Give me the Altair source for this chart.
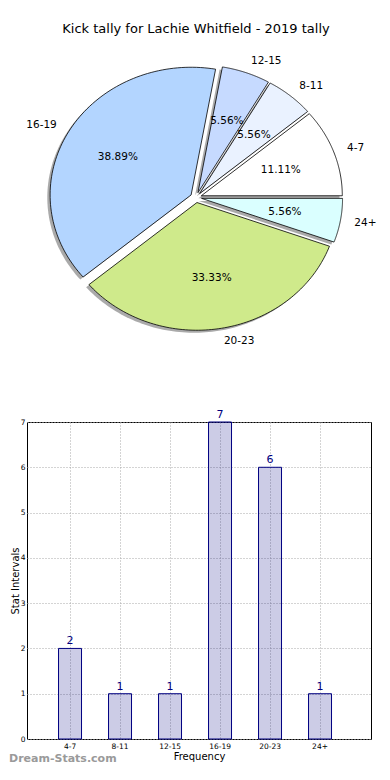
import altair as alt
import pandas as pd

# ---------------- data ----------------
categories = ["4-7", "8-11", "12-15", "16-19", "20-23", "24+"]
counts = [2, 1, 1, 7, 6, 1]
slice_colors = ["#FFFFFF", "#EAF2FF", "#C6DAFF", "#B3D5FF", "#CFEA8B", "#DAFFFF"]
y_ticks = [0, 1, 2, 3, 4, 5, 6, 7]
title_text = "Kick tally for Lachie Whitfield - 2019 tally"
watermark = ["Dream-Stats.com"]

df = pd.DataFrame({
    "cat": categories,
    "count": counts,
    "color": slice_colors,
    "idx": list(range(len(categories))),
})

# ---------------- style / layout ----------------
FONT = "DejaVu Sans"
EXPLODE = 0.04
LABEL_DIST = 1.1
PCT_DIST = 0.6
NSEG = 90
SHADOW = 0.02

PIE_W = 338
PIE_H = 307
RX = 141.0
RY = 127.7
DX = PIE_W / (2 * RX)
DY = PIE_H / (2 * RY)

BAR_W = 344
BAR_H = 317

xs = alt.Scale(domain=[-DX, DX], nice=False, zero=False)
ys = alt.Scale(domain=[-DY, DY], nice=False, zero=False)

base = (
    alt.Chart(df)
    .transform_joinaggregate(total="sum(count)")
    .transform_window(cum="sum(count)", sort=[alt.SortField("idx")], frame=[None, 0])
    .transform_calculate(a0="2*PI*(datum.cum - datum.count)/datum.total")
    .transform_calculate(a1="2*PI*datum.cum/datum.total")
    .transform_calculate(mid="(datum.a0 + datum.a1)/2")
    .transform_calculate(ex=f"{EXPLODE}*cos(datum.mid)")
    .transform_calculate(ey=f"{EXPLODE}*sin(datum.mid)")
)

poly = (
    base.transform_calculate(pts=f"sequence(0, {NSEG + 3})")
    .transform_flatten(["pts"], as_=["i"])
    .transform_calculate(k="datum.i - 1")
    .transform_calculate(t=f"clamp(datum.k, 0, {NSEG})/{NSEG}")
    .transform_calculate(r=f"(datum.k < 0 || datum.k > {NSEG}) ? 0 : 1")
    .transform_calculate(ang="datum.a0 + (datum.a1 - datum.a0)*datum.t")
    .transform_calculate(px="datum.ex + datum.r*cos(datum.ang)")
    .transform_calculate(py="datum.ey + datum.r*sin(datum.ang)")
)

shadow = (
    poly.transform_calculate(sx=f"datum.px - {SHADOW}")
    .transform_calculate(sy=f"datum.py - {SHADOW}")
    .mark_line(fill="#555555", fillOpacity=0.5, strokeOpacity=0, strokeWidth=0)
    .encode(
        x=alt.X("sx:Q", scale=xs, axis=None),
        y=alt.Y("sy:Q", scale=ys, axis=None),
        detail="cat:N",
        order="i:Q",
    )
)

slices = poly.mark_line(stroke="black", strokeWidth=0.8, strokeJoin="miter").encode(
    x=alt.X("px:Q", scale=xs, axis=None),
    y=alt.Y("py:Q", scale=ys, axis=None),
    detail="cat:N",
    order="i:Q",
    fill=alt.Fill("color:N", scale=None),
)

pct = (
    base.transform_calculate(lx=f"datum.ex + {PCT_DIST}*cos(datum.mid)")
    .transform_calculate(ly=f"datum.ey + {PCT_DIST}*sin(datum.mid)")
    .transform_calculate(pct="format(100*datum.count/datum.total, '.2f') + '%'")
    .mark_text(font=FONT, fontSize=10.5, color="black", baseline="middle")
    .encode(
        x=alt.X("lx:Q", scale=xs, axis=None),
        y=alt.Y("ly:Q", scale=ys, axis=None),
        text="pct:N",
    )
)

names = (
    base.transform_calculate(nx=f"datum.ex + {LABEL_DIST}*cos(datum.mid)")
    .transform_calculate(ny=f"datum.ey + {LABEL_DIST}*sin(datum.mid)")
)
names_r = names.transform_filter("cos(datum.mid) >= 0").mark_text(
    font=FONT, fontSize=10.5, color="black", align="left", baseline="middle"
).encode(
    x=alt.X("nx:Q", scale=xs, axis=None),
    y=alt.Y("ny:Q", scale=ys, axis=None),
    text="cat:N",
)
names_l = names.transform_filter("cos(datum.mid) < 0").mark_text(
    font=FONT, fontSize=10.5, color="black", align="right", baseline="middle"
).encode(
    x=alt.X("nx:Q", scale=xs, axis=None),
    y=alt.Y("ny:Q", scale=ys, axis=None),
    text="cat:N",
)

pie = alt.layer(shadow, slices, pct, names_r, names_l).properties(
    width=PIE_W,
    height=PIE_H,
    title=alt.TitleParams(
        text=title_text, font=FONT, fontSize=13, fontWeight="normal",
        anchor="middle", offset=8, color="black",
    ),
)

# ---------------- bar chart ----------------
grid_kw = dict(grid=True, gridDash=[1, 2], gridColor="#a8a8a8", gridWidth=1)

bars = alt.Chart(df).mark_bar(
    fill="#000080", fillOpacity=0.2, stroke="#000080", strokeWidth=1
).encode(
    x=alt.X(
        "cat:N", sort=categories,
        scale=alt.Scale(paddingInner=0.54, paddingOuter=0.71, align=0.444),
        axis=alt.Axis(
            title="Frequency", titleFont=FONT, titleFontSize=10, titleFontWeight="normal",
            titleColor="black", titlePadding=2, labelFont=FONT, labelFontSize=7.5,
            labelColor="black", labelAngle=0, labelPadding=3, ticks=False, domain=False,
            bandPosition=0.5, **grid_kw,
        ),
    ),
    y=alt.Y(
        "count:Q",
        scale=alt.Scale(domain=[0, 7], nice=False),
        axis=alt.Axis(
            values=y_ticks, title="Stat Intervals", titleFont=FONT, titleFontSize=10,
            titleFontWeight="normal", titleColor="black", titlePadding=0,
            labelFont=FONT, labelFontSize=7.5, labelColor="black", labelPadding=2,
            ticks=False, domain=False, **grid_kw,
        ),
    ),
)

vals = bars.mark_text(
    font=FONT, fontSize=11, color="#000080", baseline="bottom", dy=-2
).encode(text="count:Q")

wm = alt.Chart(pd.DataFrame({"w": watermark})).mark_text(
    font=FONT, fontSize=11, fontWeight="bold", color="#9a9a9a", align="left", baseline="middle"
).encode(x=alt.value(-18), y=alt.value(BAR_H + 20), text="w:N")

bar_chart = alt.layer(bars, vals, wm).properties(
    width=BAR_W, height=BAR_H,
    view=alt.ViewBackground(stroke="black", strokeWidth=1),
)

chart = (
    alt.vconcat(pie, bar_chart, spacing=56)
    .properties(padding={"left": 0, "top": 14, "right": 0, "bottom": 0})
    .configure_view(stroke="transparent")
)

chart.save("out.html", embed_options={"renderer": "svg", "actions": False})
